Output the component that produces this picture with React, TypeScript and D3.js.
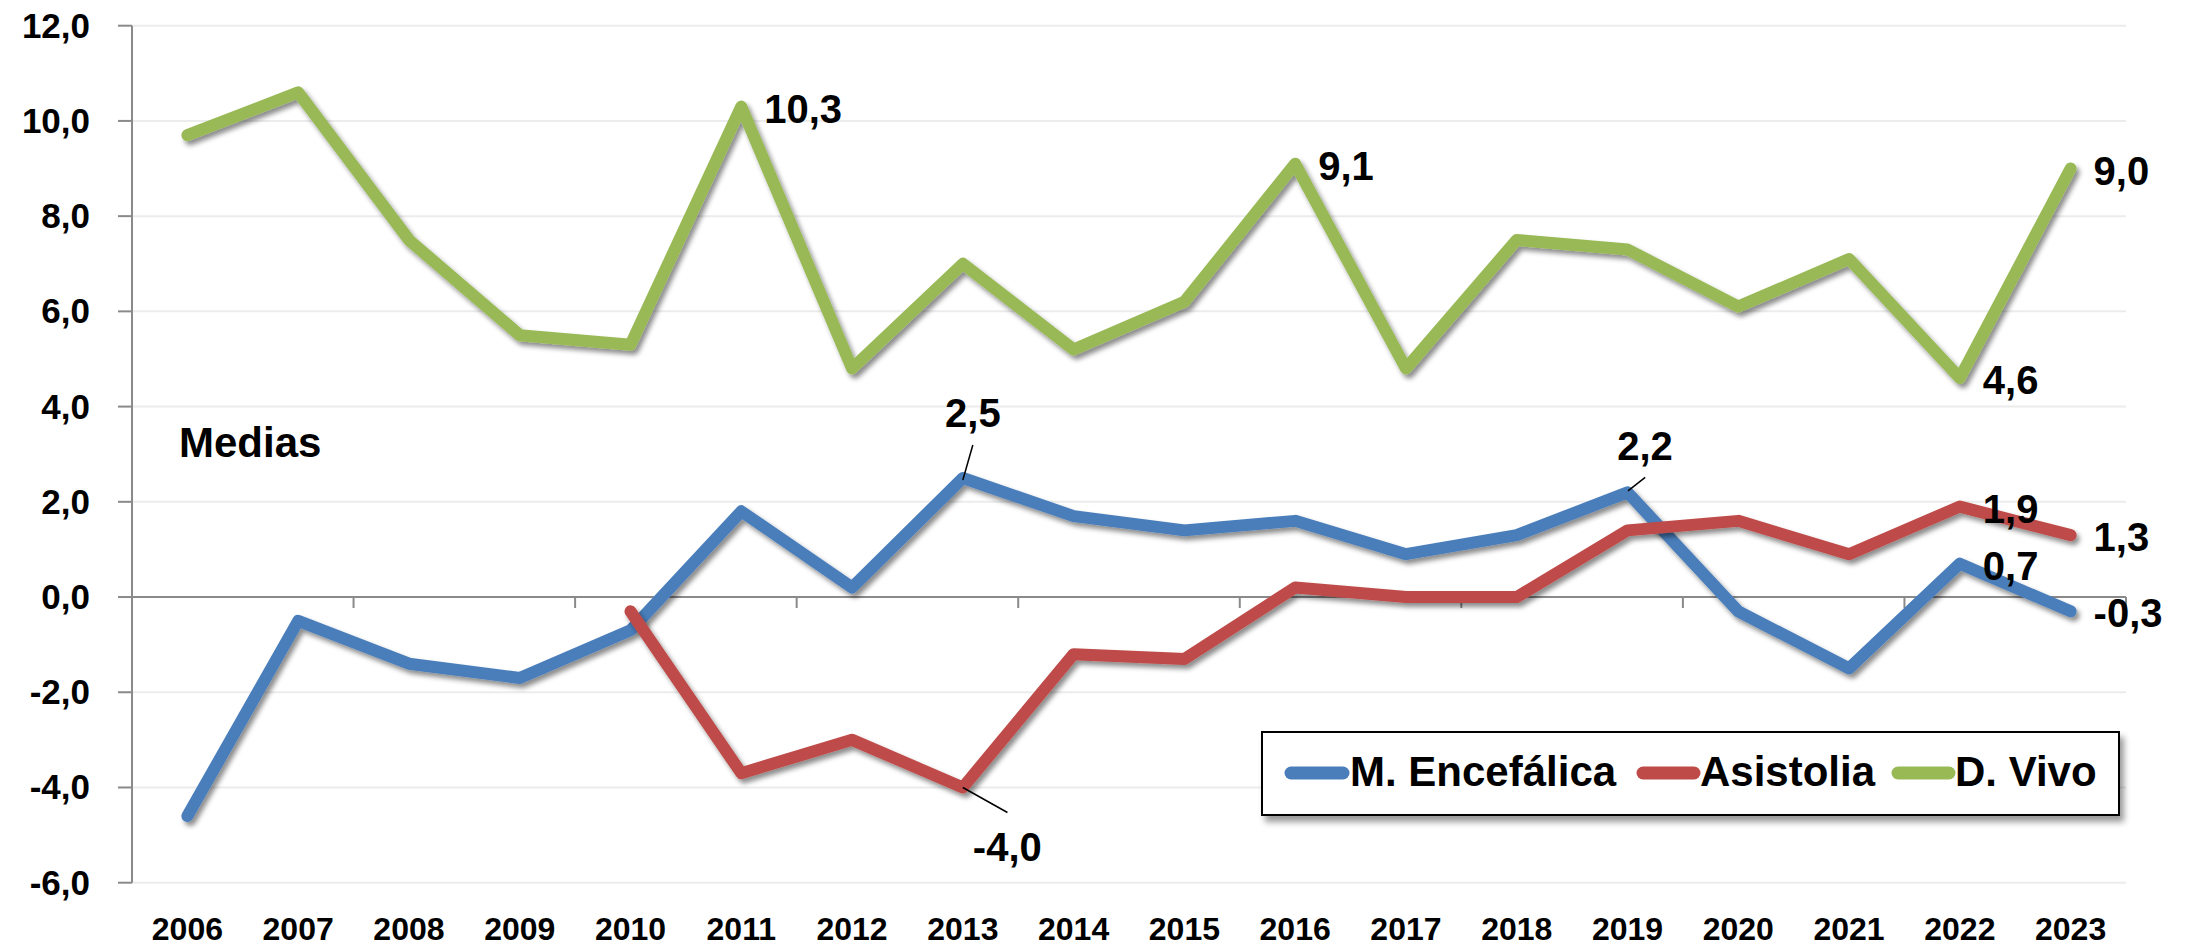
import React from "react";
import * as d3 from "d3";

const years = [2006, 2007, 2008, 2009, 2010, 2011, 2012, 2013, 2014, 2015, 2016, 2017, 2018, 2019, 2020, 2021, 2022, 2023];
const encefalica: (number | null)[] = [-4.6, -0.5, -1.4, -1.7, -0.7, 1.8, 0.2, 2.5, 1.7, 1.4, 1.6, 0.9, 1.3, 2.2, -0.3, -1.5, 0.7, -0.3];
const asistolia: (number | null)[] = [null, null, null, null, -0.3, -3.7, -3.0, -4.0, -1.2, -1.3, 0.2, 0.0, 0.0, 1.4, 1.6, 0.9, 1.9, 1.3];
const vivo: (number | null)[] = [9.7, 10.6, 7.5, 5.5, 5.3, 10.3, 4.8, 7.0, 5.2, 6.2, 9.1, 4.8, 7.5, 7.3, 6.1, 7.1, 4.6, 9.0];
const seriesNames = ["M. Encefálica", "Asistolia", "D. Vivo"];
const yTicks = [-6, -4, -2, 0, 2, 4, 6, 8, 10, 12];
const annotationText = "Medias";

// labelled points: [series index, year, placement]
const labelled: [number, number, string][] = [
  [2, 2011, "right"], [2, 2016, "right"], [2, 2022, "right"], [2, 2023, "right"],
  [0, 2013, "above"], [0, 2019, "aboveRight"], [0, 2022, "right"], [0, 2023, "right"],
  [1, 2013, "below"], [1, 2022, "right"], [1, 2023, "right"],
];

const COLORS = ["#4A7EBB", "#BE4B48", "#98B954"];
const FONT = "'Liberation Sans', Arial, sans-serif";

const fmt = (v: number) => d3.format(".1f")(v).replace(".", ",").replace("−", "-");

export default function App() {
  const W = 2189, H = 950;
  const left = 132, right = 2126;
  const x = d3.scaleBand<number>().domain(years).range([left, right]).paddingInner(0).paddingOuter(0);
  const cx = (yr: number) => (x(yr) as number) + x.bandwidth() / 2;
  const y = d3.scaleLinear().domain([-6, 12]).range([882.7, 25.7]);
  const data = [encefalica, asistolia, vivo];

  const line = d3.line<number | null>()
    .defined((d) => d !== null)
    .x((_, i) => cx(years[i]))
    .y((d) => y(d as number));

  const boundaries = d3.range(0, years.length + 1, 2).map((k) => left + k * x.bandwidth());

  const placements: Record<string, any> = {
    right: { dx: 23, dy: 16, anchor: "start" },
    above: { dx: 10, dy: -51.5, anchor: "middle", lead: [10, -33, 0, 2] },
    aboveRight: { dx: 17.5, dy: -32.4, anchor: "middle", lead: [17.7, -15, 0.5, -1.4] },
    below: { dx: 44.5, dy: 74, anchor: "middle", lead: [44.6, 25, 0, 0] },
  };

  // legend layout
  const lg = { x: 1262, y: 732, w: 857, h: 83 };
  const legendItems = [
    { lx1: 1291, lx2: 1343, tx: 1350 },
    { lx1: 1643, lx2: 1694, tx: 1700 },
    { lx1: 1898, lx2: 1949, tx: 1955 },
  ];

  return (
    <svg width={W} height={H} style={{ position: "absolute", left: 0, top: 0, background: "#fff" }} fontFamily={FONT}>
      <defs>
        <filter id="sh" x="-10%" y="-10%" width="120%" height="120%">
          <feDropShadow dx="3" dy="4" stdDeviation="2.5" floodColor="#000" floodOpacity="0.45" />
        </filter>
        <filter id="shBox" x="-5%" y="-20%" width="110%" height="150%">
          <feDropShadow dx="4" dy="6" stdDeviation="3" floodColor="#000" floodOpacity="0.4" />
        </filter>
      </defs>
      <rect x={0} y={0} width={W} height={H} fill="#fff" />
      {/* gridlines */}
      {yTicks.filter((t) => t !== 0).map((t) => (
        <line key={"g" + t} x1={left} x2={right} y1={y(t)} y2={y(t)} stroke="#ECECEC" strokeWidth={2} />
      ))}
      {/* y axis */}
      <line x1={left} x2={left} y1={y(12)} y2={y(-6)} stroke="#8A8A8A" strokeWidth={2} />
      {yTicks.map((t) => (
        <g key={"yt" + t}>
          <line x1={118} x2={left} y1={y(t)} y2={y(t)} stroke="#8A8A8A" strokeWidth={2} />
          <text x={90} y={y(t)} dy={12} textAnchor="end" fontSize={35} fontWeight="bold" fill="#000">
            {fmt(t)}
          </text>
        </g>
      ))}
      {/* x axis at zero */}
      <line x1={left} x2={right} y1={y(0)} y2={y(0)} stroke="#8A8A8A" strokeWidth={2} />
      {boundaries.map((b, i) => (
        <line key={"xt" + i} x1={b} x2={b} y1={y(0)} y2={y(0) + 11} stroke="#8A8A8A" strokeWidth={2} />
      ))}
      {years.map((yr) => (
        <text key={"xl" + yr} x={cx(yr)} y={940} textAnchor="middle" fontSize={32} fontWeight="bold" fill="#000">
          {yr}
        </text>
      ))}
      {/* annotation */}
      <text x={179} y={457} fontSize={42} fontWeight="bold" fill="#000">{annotationText}</text>
      {/* series */}
      {data.map((s, i) => (
        <path key={"s" + i} d={line(s) || ""} fill="none" stroke={COLORS[i]} strokeWidth={12}
          strokeLinejoin="round" strokeLinecap="round" filter="url(#sh)" />
      ))}
      {/* data labels */}
      {labelled.map(([si, yr, p], k) => {
        const idx = years.indexOf(yr);
        const v = data[si][idx] as number;
        const px = cx(yr), py = y(v);
        const pl = placements[p];
        return (
          <g key={"dl" + k}>
            {pl.lead && (
              <line x1={px + pl.lead[0]} y1={py + pl.lead[1]} x2={px + pl.lead[2]} y2={py + pl.lead[3]} stroke="#000" strokeWidth={1.5} />
            )}
            <text x={px + pl.dx} y={py + pl.dy} textAnchor={pl.anchor} fontSize={40} fontWeight="bold" fill="#000">
              {fmt(v)}
            </text>
          </g>
        );
      })}
      {/* legend */}
      <rect x={lg.x} y={lg.y} width={lg.w} height={lg.h} fill="#fff" stroke="#000" strokeWidth={2} filter="url(#shBox)" />
      {legendItems.map((it, i) => (
        <g key={"lg" + i}>
          <line x1={it.lx1} x2={it.lx2} y1={773} y2={773} stroke={COLORS[i]} strokeWidth={13} strokeLinecap="round" />
          <text x={it.tx} y={786} fontSize={42} fontWeight="bold" fill="#000">{seriesNames[i]}</text>
        </g>
      ))}
    </svg>
  );
}
